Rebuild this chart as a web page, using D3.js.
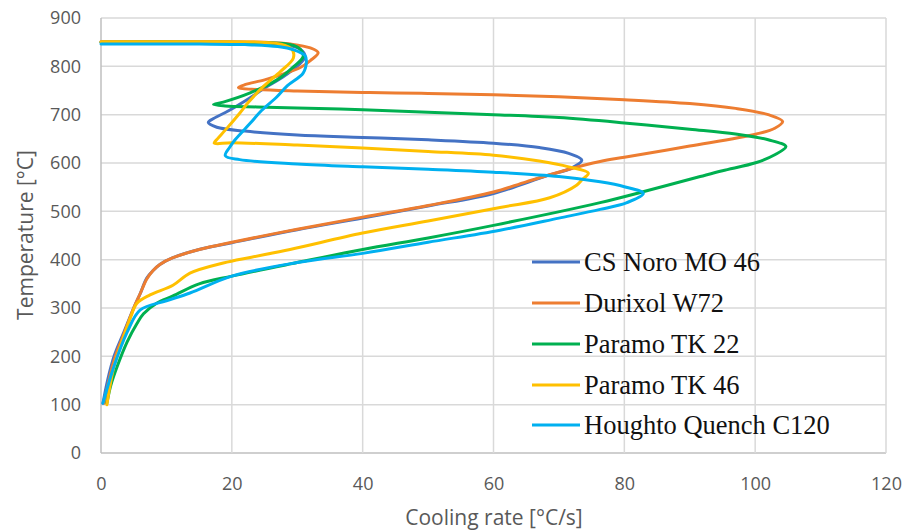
<!DOCTYPE html>
<html>
<head>
<meta charset="utf-8">
<script src="https://cdn.jsdelivr.net/npm/d3@7"></script>
<style>
  html, body { margin: 0; padding: 0; background: #fff; }
  svg { display: block; }
</style>
</head>
<body>
<svg id="chart" width="907" height="531"></svg>
<script>
// ---- data: [cooling rate °C/s, temperature °C] along each measured path ----
const seriesNames = ["CS Noro MO 46", "Durixol W72", "Paramo TK 22", "Paramo TK 46", "Houghto Quench C120"];
const seriesColors = ["#4472C4", "#ED7D31", "#00B050", "#FFC000", "#00B0F0"];

const noroMO46 = [[0,850],[15,850],[24,849],[28,845],[30.5,835],[31.2,820],[30.2,803],[27.8,778],[25,755],[22.8,735],[19.5,708],[17.2,692],[16.4,684],[17.7,674],[22,666],[30,658],[40,653],[50,648],[60,641],[67,632],[71.5,620],[73.5,606],[72,590],[68,573],[60,537],[50,511],[40,486],[30,462],[20,435],[15,421],[11,404],[9,390],[8,378],[7,362],[6,330],[5,300],[3.5,250],[2,200],[1,150],[0.3,103]];
const durixolW72 = [[0,851],[15,851],[25,850],[29,846],[32,838],[33.2,828],[32,812],[30.4,797],[28,785],[25,772],[22,762],[21,756],[24,752],[30,749],[40,746],[50,744],[60,741],[70,737],[80,731],[90,723],[97,713],[102,700],[104.2,686],[103,672],[100.2,660],[90,635],[80,612],[76.3,603],[71,585],[65,561],[60,540],[50,512],[40,488],[30,463],[20,436],[15,421],[11,404],[9,390],[8,378],[7,360],[6,330],[5,300],[3.6,250],[2.2,200],[1.2,150],[0.5,103]];
const paramoTK22 = [[0,850],[15,850],[25,849],[29,845],[30.5,835],[30.9,820],[29.5,800],[26.9,772],[22.8,745],[18.7,726],[17.2,721],[19,718],[23.8,716],[30,714],[40,710],[50,705],[60,700],[70,694],[80,683],[90,670],[97,660],[102,648],[104.7,634],[103,617],[100.2,601],[95,584],[91.6,572],[83,541],[76.3,518],[60,471],[50,445],[40,421],[30,394],[20,366],[15,350],[11,325],[8.5,310],[6.5,288],[5.5,268],[4,230],[2.5,180],[1.5,140],[0.9,103]];
const paramoTK46 = [[0,851],[15,851],[24,850],[27.5,846],[29.2,835],[29.4,817],[27.5,790],[24.8,758],[22.5,725],[21.2,703],[19,668],[17.8,650],[17.3,641],[20,642],[30,637],[40,631],[50,624],[60,616],[67,604],[71.5,592],[74.5,579],[73.5,565],[72.7,554],[68.6,528],[61,508],[50,480],[40,455],[28.9,421],[23,405],[18.7,393],[13.6,372],[11,347],[7.5,327],[5.5,310],[4.5,280],[3.2,230],[2,180],[0.9,100]];
const houghtoC120 = [[0,846],[15,846],[22,845],[27,841],[29.5,834],[31.2,822],[31.4,810],[30.9,786],[28.5,760],[26.9,737],[24.5,708],[22.8,682],[20.5,648],[19.7,633],[19,615],[21.2,607],[30,598],[40,592],[50,587],[60,581],[70,572],[76.3,561],[80,551],[82.9,537],[80.4,518],[76.3,504],[70,486],[61,461],[50,436],[40,413],[30,394],[20,366],[13.6,331],[10,315],[6,296],[4,250],[2,180],[0.3,103]];

const seriesData = [noroMO46, durixolW72, paramoTK22, paramoTK46, houghtoC120];

const xTicks = [0, 20, 40, 60, 80, 100, 120];
const yTicks = [0, 100, 200, 300, 400, 500, 600, 700, 800, 900];

// ---- layout ----
const svg = d3.select("#chart");
const plotLeft = 101, plotRight = 886, plotTop = 18, plotBottom = 453;

const x = d3.scaleLinear().domain([0, 120]).range([plotLeft, plotRight]);
const y = d3.scaleLinear().domain([0, 900]).range([plotBottom, plotTop]);

const gridColor = "#d9d9d9";
const textColor = "#595959";
const tickFont = "'Open Sans', 'Liberation Sans', sans-serif";

// gridlines
svg.append("g").selectAll("line").data(yTicks).join("line")
  .attr("x1", plotLeft).attr("x2", plotRight)
  .attr("y1", d => y(d)).attr("y2", d => y(d))
  .attr("stroke", d => d === 0 ? "#bfbfbf" : gridColor).attr("stroke-width", 1.5);
svg.append("g").selectAll("line").data(xTicks).join("line")
  .attr("x1", d => x(d)).attr("x2", d => x(d))
  .attr("y1", plotTop).attr("y2", plotBottom)
  .attr("stroke", d => d === 0 ? "#bfbfbf" : gridColor).attr("stroke-width", 1.5);

// axes (labels only)
const yAxis = svg.append("g").attr("transform", `translate(${plotLeft},0)`)
  .call(d3.axisLeft(y).tickValues(yTicks).tickSize(0).tickPadding(20));
const xAxis = svg.append("g").attr("transform", `translate(0,${plotBottom})`)
  .call(d3.axisBottom(x).tickValues(xTicks).tickSize(0).tickPadding(24));
[yAxis, xAxis].forEach(g => {
  g.select(".domain").remove();
  g.selectAll("text").attr("fill", textColor).style("font-family", tickFont).style("font-size", "18px");
});

// axis titles
svg.append("text").attr("x", 494).attr("y", 525)
  .attr("text-anchor", "middle").attr("fill", textColor)
  .style("font-family", tickFont).style("font-size", "21px")
  .text("Cooling rate [°C/s]");
svg.append("text").attr("transform", "translate(33,235) rotate(-90)")
  .attr("text-anchor", "middle").attr("fill", textColor)
  .style("font-family", tickFont).style("font-size", "21px")
  .text("Temperature [°C]");

// curves
const line = d3.line()
  .x(d => x(d[0])).y(d => y(d[1]))
  .curve(d3.curveCatmullRom.alpha(0.5));

svg.append("g").selectAll("path").data(seriesData).join("path")
  .attr("d", d => line(d))
  .attr("fill", "none")
  .attr("stroke", (d, i) => seriesColors[i])
  .attr("stroke-width", 3)
  .attr("stroke-linejoin", "round")
  .attr("stroke-linecap", "round");

// legend
const legendY = [262, 303, 344, 385, 425];
const legend = svg.append("g").selectAll("g").data(seriesNames).join("g")
  .attr("transform", (d, i) => `translate(532,${legendY[i]})`);
legend.append("line").attr("x1", 0).attr("x2", 48).attr("y1", 0).attr("y2", 0)
  .attr("stroke", (d, i) => seriesColors[i]).attr("stroke-width", 3);
legend.append("text").attr("x", 52).attr("y", 0).attr("dy", "0.33em")
  .attr("fill", "#111")
  .style("font-family", "'Liberation Serif', 'Times New Roman', serif")
  .style("font-size", "26.5px")
  .text(d => d);
</script>
</body>
</html>
